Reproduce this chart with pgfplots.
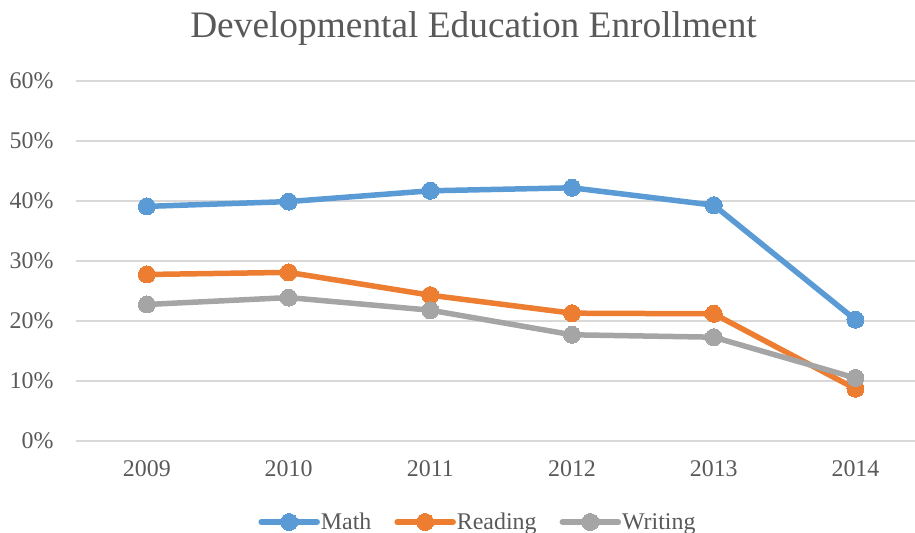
\documentclass[border=0pt]{standalone}
\usepackage{fontspec}
\setmainfont{Liberation Serif}
\usepackage{pgfplots}
\pgfplotsset{compat=1.18}
\definecolor{mathc}{HTML}{5B9BD5}
\definecolor{readc}{HTML}{ED7D31}
\definecolor{writc}{HTML}{A5A5A5}
\definecolor{gridc}{HTML}{D9D9D9}
\definecolor{txt}{HTML}{595959}
\begin{document}
\begin{tikzpicture}[x=1bp,y=1bp]
\useasboundingbox (0,0) rectangle (915,533);
\node[anchor=base,text=txt,font=\fontsize{37.5}{44}\selectfont,inner sep=0] at (473.5,495) {Developmental Education Enrollment};
\begin{axis}[
  at={(76bp,92bp)}, anchor=south west,
  scale only axis, width=839bp, height=360bp,
  xmin=-0.5, xmax=5.42, ymin=0, ymax=60,
  xtick={0,1,2,3,4,5},
  xticklabels={2009,2010,2011,2012,2013,2014},
  ytick={0,10,20,30,40,50,60},
  yticklabel={\pgfmathprintnumber{\tick}\%},
  /pgf/number format/assume math mode=true,
  axis line style={draw=none},
  major tick length=0pt,
  ymajorgrids, grid style={gridc, line width=1.3bp},
  tick label style={text=txt, font=\fontsize{24}{28}\selectfont},
  yticklabel style={xshift=-19bp},
  xticklabel style={yshift=-16bp},
  clip=false,
  legend columns=3,
  legend style={draw=none, fill=none, at={(0.4785,-0.225)}, anchor=center,
    font=\fontsize{24}{28}\selectfont, text=txt,
    /tikz/every even column/.append style={column sep=22bp},
    nodes={inner xsep=1bp}},
  legend image code/.code={\draw[line width=5.5bp, mark repeat=2,mark phase=2] plot coordinates {(0bp,0bp)(28bp,0bp)(56bp,0bp)};},
]
\addplot[mathc, line width=5.5bp, line join=round, line cap=round, mark=*, mark size=8.5bp, mark options={fill=mathc, draw=mathc, line width=0pt}] coordinates {(0,39.1)(1,39.9)(2,41.7)(3,42.2)(4,39.3)(5,20.2)};
\addplot[readc, line width=5.5bp, line join=round, line cap=round, mark=*, mark size=8.5bp, mark options={fill=readc, draw=readc, line width=0pt}] coordinates {(0,27.75)(1,28.1)(2,24.3)(3,21.3)(4,21.2)(5,8.7)};
\addplot[writc, line width=5.5bp, line join=round, line cap=round, mark=*, mark size=8.5bp, mark options={fill=writc, draw=writc, line width=0pt}] coordinates {(0,22.75)(1,23.9)(2,21.8)(3,17.7)(4,17.3)(5,10.5)};
\legend{Math,Reading,Writing}
\end{axis}
\end{tikzpicture}
\end{document}
